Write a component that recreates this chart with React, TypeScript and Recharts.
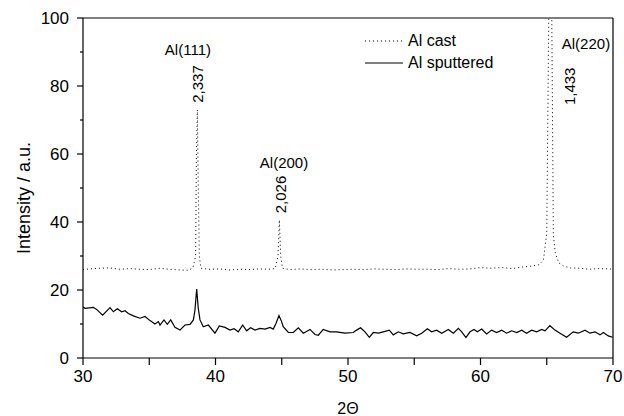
import React from "react";
import { Legend, Line, LineChart, ReferenceDot, ReferenceLine, XAxis, YAxis } from "recharts";

const FONT = "'Liberation Sans', Arial, Helvetica, sans-serif";

// Al cast (dotted) – 2θ positions and intensities
const castX = [
  30.0, 30.5, 31.2, 32.0, 32.8, 33.5, 34.3, 35.0, 35.8, 36.5, 37.3, 38.0, 38.3, 38.5, 38.56, 38.63, 38.7, 38.78,
  38.9, 39.5, 40.3, 41.0, 41.8, 42.5, 43.3, 44.0, 44.5, 44.72, 44.82, 44.92, 45.05, 45.6, 46.4, 47.2, 48.0,
  48.8, 49.6, 50.4, 51.2, 52.0, 52.8, 53.6, 54.4, 55.2, 56.0, 56.8, 57.6, 58.4, 59.2, 60.0, 60.8, 61.6, 62.4,
  63.2, 63.8, 64.4, 64.75, 65.0, 65.15, 65.26, 65.38, 65.5, 65.65, 65.9, 66.3, 66.8, 67.5, 68.2, 69.0, 69.7, 70.0,
];
const castY = [
  26.0, 26.2, 26.4, 26.5, 26.1, 26.3, 26.1, 26.0, 26.4, 26.1, 25.9, 25.8, 26.6, 30, 60, 73, 50, 30,
  26.4, 26.1, 26.2, 25.9, 26.1, 26.0, 26.2, 26.1, 26.3, 30, 40.6, 30, 26.4, 26.0, 26.2, 26.0, 26.1,
  25.9, 26.0, 26.1, 26.0, 26.2, 26.1, 26.0, 26.2, 26.1, 26.1, 26.0, 26.3, 26.1, 26.2, 26.6, 26.4, 26.6, 26.3,
  26.8, 27.0, 27.4, 28.8, 36.7, 100, 150, 100, 36, 30.8, 28.0, 27.0, 26.5, 26.4, 26.1, 26.3, 26.2, 26.1,
];

// Al sputtered (solid)
const sputX = [
  30.0, 30.15, 30.78, 31.03, 31.48, 32.04, 32.29, 32.59, 32.92, 33.17, 33.42, 33.8, 34.3, 34.68, 35.06, 35.43,
  35.69, 35.81, 36.11, 36.36, 36.62, 36.94, 37.32, 37.7, 38.08, 38.33, 38.45, 38.58, 38.7, 38.83, 39.08, 39.46,
  39.96, 40.29, 40.72, 41.09, 41.4, 41.72, 42.05, 42.35, 42.65, 42.98, 43.36, 43.74, 44.11, 44.36, 44.57, 44.79,
  44.99, 45.11, 45.5, 45.87, 46.25, 46.63, 47.13, 47.51, 47.76, 48.13, 48.64, 49.14, 49.77, 50.4, 50.65, 50.95,
  51.28, 51.61, 51.91, 52.29, 52.66, 53.12, 53.42, 53.8, 54.17, 54.68, 55.18, 55.56, 55.99, 56.31, 56.69, 57.07,
  57.57, 57.95, 58.33, 58.58, 58.9, 59.21, 59.51, 59.76, 60.09, 60.46, 60.84, 61.22, 61.6, 61.97, 62.35, 62.73,
  63.11, 63.48, 63.86, 64.24, 64.62, 64.87, 65.24, 65.62, 66.0, 66.5, 67.0, 67.38, 67.89, 68.26, 68.64, 69.02,
  69.27, 69.65, 69.97,
];
const sputY = [
  15.0, 14.6, 14.9, 14.3, 12.6, 14.8, 13.6, 14.5, 13.6, 13.9, 13.1, 12.4, 11.7, 12.2, 11.0, 10.0,
  10.7, 9.7, 11.2, 9.9, 11.2, 9.0, 8.2, 9.7, 9.9, 11.2, 14.1, 20.3, 14.6, 11.2, 9.2, 9.7,
  7.3, 9.4, 9.0, 8.2, 8.6, 7.7, 9.7, 8.0, 8.9, 8.2, 8.7, 8.5, 9.0, 8.5, 10.2, 12.5,
  10.7, 9.2, 7.5, 7.5, 8.9, 7.3, 8.4, 6.9, 6.7, 8.4, 7.7, 7.7, 7.3, 7.5, 8.2, 8.9,
  7.7, 6.1, 7.5, 7.3, 7.7, 8.2, 6.8, 7.7, 7.1, 7.5, 6.5, 7.3, 8.6, 7.7, 8.2, 7.3,
  8.4, 7.3, 8.7, 7.7, 6.0, 7.7, 8.4, 7.7, 8.5, 7.1, 8.2, 7.5, 8.2, 7.3, 8.0, 7.5,
  8.2, 7.3, 8.2, 7.7, 8.4, 8.0, 9.5, 8.2, 7.3, 6.1, 7.7, 7.3, 8.2, 7.3, 7.7, 6.8,
  7.5, 6.5, 6.1,
];

const xTicks = [30, 35, 40, 45, 50, 55, 60, 65, 70];
const yTicks = [0, 10, 20, 30, 40, 50, 60, 70, 80, 90, 100];

// peak labels: [2θ, intensity, text, rotated]
const peakLabels: [number, number, string, boolean][] = [
  [37.92, 90.6, "Al(111)", false],
  [38.62, 80.6, "2,337", true],
  [45.17, 57.6, "Al(200)", false],
  [44.87, 48.1, "2,026", true],
  [67.96, 92.5, "Al(220)", false],
  [66.75, 79.9, "1,433", true],
];

const castData = castX.map((x, i) => ({ x, y: castY[i] }));
const sputData = sputX.map((x, i) => ({ x, y: sputY[i] }));

const YTick = (props: any) => {
  const { x, y, payload } = props;
  const major = payload.value % 20 === 0;
  return (
    <g>
      <line x1={x + (major ? 8 : 11)} x2={x + 14} y1={y} y2={y} stroke="#000" strokeWidth={1.2} />
      {major && (
        <text x={x} y={y} textAnchor="end" dominantBaseline="central" fontSize={17} fontFamily={FONT} fill="#000">
          {payload.value}
        </text>
      )}
    </g>
  );
};

const renderLegend = (props: any) => (
  <div style={{ fontFamily: FONT, fontSize: 16, color: "#000", lineHeight: "22px" }}>
    {props.payload.map((entry: any) => (
      <div key={entry.value} style={{ display: "flex", alignItems: "center" }}>
        <svg width={43} height={22}>
          <line
            x1={0}
            x2={38}
            y1={11}
            y2={11}
            stroke="#000"
            strokeWidth={1.2}
            strokeDasharray={entry.payload?.strokeDasharray}
          />
        </svg>
        <span>{entry.value}</span>
      </div>
    ))}
  </div>
);

export default function App() {
  return (
    <div style={{ position: "absolute", left: 0, top: 0, background: "#fff" }}>
      <LineChart width={624} height={416} margin={{ top: 18, right: 11, left: 0, bottom: 0 }}>
        <XAxis
          dataKey="x"
          type="number"
          domain={[30, 70]}
          ticks={xTicks}
          allowDataOverflow
          height={58}
          tickSize={7}
          tickMargin={5}
          stroke="#000"
          strokeWidth={1.2}
          tick={{ fontSize: 17, fontFamily: FONT, fill: "#000" }}
          tickFormatter={(v) => (v % 10 === 0 ? String(v) : "")}
          label={{ value: "2Θ", position: "insideBottom", offset: 2, fontSize: 16, fontFamily: FONT, fill: "#000" }}
        />
        <YAxis
          dataKey="y"
          type="number"
          domain={[0, 100]}
          ticks={yTicks}
          allowDataOverflow
          width={83}
          tickSize={6}
          tickMargin={8}
          stroke="#000"
          strokeWidth={1.2}
          tickLine={false}
          tick={<YTick />}
          label={{
            content: () => (
              <text
                transform="translate(24,198) rotate(-90)"
                textAnchor="middle"
                dominantBaseline="central"
                fontSize={18}
                fontFamily={FONT}
                fill="#000"
              >
                Intensity / a.u.
              </text>
            ),
          }}
        />
        <ReferenceLine y={100} stroke="#000" strokeWidth={1.2} />
        <ReferenceLine x={70} stroke="#000" strokeWidth={1.2} />
        <Line
          data={castData}
          dataKey="y"
          name="Al cast"
          stroke="#000"
          strokeWidth={1}
          strokeDasharray="1 3"
          dot={false}
          type="linear"
          isAnimationActive={false}
        />
        <Line
          data={sputData}
          dataKey="y"
          name="Al sputtered"
          stroke="#000"
          strokeWidth={1.2}
          dot={false}
          type="linear"
          isAnimationActive={false}
        />
        {peakLabels.map(([px, py, text, rot]) => (
          <ReferenceDot
            key={text}
            x={px}
            y={py}
            r={0}
            ifOverflow="visible"
            shape={(p: any) => (
              <text
                x={p.cx}
                y={p.cy}
                transform={rot ? `rotate(-90 ${p.cx} ${p.cy})` : undefined}
                textAnchor="middle"
                dominantBaseline="central"
                fontSize={15}
                fontFamily={FONT}
                fill="#000"
              >
                {text}
              </text>
            )}
          />
        ))}
        <Legend
          layout="vertical"
          align="center"
          verticalAlign="middle"
          content={renderLegend}
          wrapperStyle={{ position: "absolute", left: 365, top: 30, width: "auto", height: "auto" }}
        />
      </LineChart>
    </div>
  );
}
